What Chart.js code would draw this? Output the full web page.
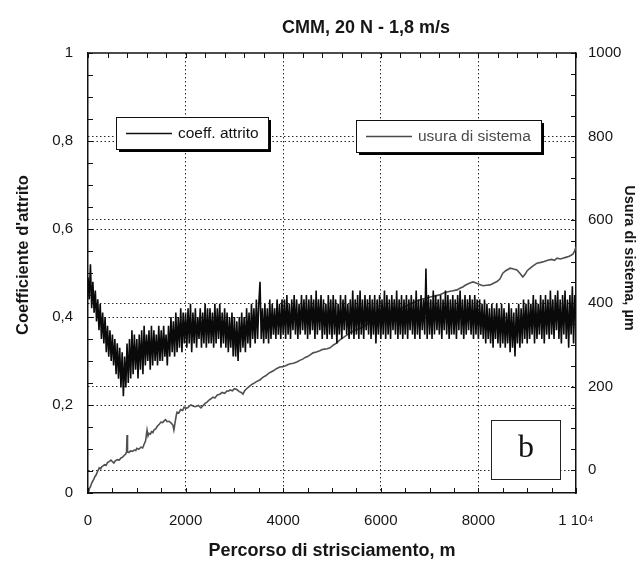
<!DOCTYPE html>
<html><head><meta charset="utf-8">
<script src="https://cdn.jsdelivr.net/npm/chart.js@4.4.1/dist/chart.umd.min.js"></script>
<style>html,body{margin:0;padding:0;background:#fff;} #wrap{width:639px;height:562px;position:relative;}</style>
</head><body><div id="wrap"><canvas id="c" width="639" height="562"></canvas></div>
<script>
const chartTitle = 'CMM, 20 N - 1,8 m/s';
const xAxisTitle = 'Percorso di strisciamento, m';
const leftAxisTitle = "Coefficiente d'attrito";
const rightAxisTitle = 'Usura di sistema, µm';
const seriesNames = ['coeff. attrito', 'usura di sistema'];
const panelLetter = 'b';

const xTickValues = [0, 2000, 4000, 6000, 8000, 10000];
const xTickLabels = ['0', '2000', '4000', '6000', '8000', '1 10⁴'];
const leftTickValues = [0, 0.2, 0.4, 0.6, 0.8, 1];
const leftTickLabels = ['0', '0,2', '0,4', '0,6', '0,8', '1'];
const rightTickValues = [0, 200, 400, 600, 800, 1000];
const rightTickLabels = ['0', '200', '400', '600', '800', '1000'];

// friction coefficient, one reading every 25 m (0 ... 10000 m)
const frictionStep = 25;
const frictionValues = [
  0.49,0.44,0.52,0.42,0.48,0.41,0.46,0.39,0.44,0.37,0.43,0.35,0.41,0.34,0.40,0.32,0.38,0.31,0.37,0.30,
  0.36,0.29,0.35,0.27,0.34,0.26,0.33,0.24,0.32,0.22,0.31,0.24,0.34,0.25,0.35,0.26,0.37,0.27,0.36,0.28,
  0.35,0.26,0.36,0.28,0.37,0.27,0.38,0.29,0.36,0.30,0.37,0.28,0.38,0.29,0.37,0.30,0.36,0.29,0.38,0.30,
  0.37,0.30,0.38,0.31,0.36,0.29,0.38,0.31,0.40,0.32,0.39,0.31,0.41,0.32,0.40,0.33,0.42,0.32,0.41,0.34,
  0.41,0.33,0.42,0.34,0.43,0.32,0.41,0.34,0.42,0.33,0.40,0.35,0.42,0.33,0.41,0.34,0.43,0.33,0.42,0.34,
  0.42,0.34,0.41,0.33,0.43,0.34,0.42,0.35,0.43,0.33,0.41,0.34,0.42,0.33,0.41,0.32,0.40,0.33,0.41,0.31,
  0.40,0.31,0.39,0.30,0.40,0.32,0.41,0.33,0.40,0.32,0.42,0.34,0.41,0.33,0.43,0.35,0.42,0.34,0.44,0.35,
  0.43,0.48,0.35,0.42,0.34,0.43,0.35,0.42,0.34,0.44,0.35,0.43,0.36,0.42,0.35,0.44,0.36,0.43,0.35,0.44,
  0.36,0.44,0.35,0.45,0.36,0.43,0.35,0.44,0.37,0.45,0.36,0.44,0.35,0.43,0.36,0.45,0.37,0.44,0.36,0.45,
  0.35,0.44,0.36,0.45,0.37,0.44,0.35,0.46,0.36,0.44,0.37,0.45,0.35,0.44,0.36,0.43,0.35,0.45,0.36,0.44,
  0.35,0.45,0.36,0.44,0.34,0.43,0.36,0.45,0.35,0.44,0.37,0.45,0.36,0.43,0.35,0.44,0.36,0.46,0.35,0.44,
  0.36,0.45,0.35,0.46,0.36,0.44,0.35,0.45,0.37,0.44,0.36,0.45,0.35,0.44,0.36,0.45,0.34,0.44,0.36,0.45,
  0.35,0.44,0.36,0.46,0.35,0.45,0.36,0.44,0.35,0.45,0.37,0.44,0.36,0.46,0.35,0.44,0.36,0.45,0.35,0.44,
  0.36,0.45,0.35,0.44,0.37,0.45,0.36,0.44,0.35,0.46,0.36,0.44,0.35,0.45,0.37,0.44,0.36,0.51,0.35,0.45,
  0.36,0.44,0.35,0.46,0.36,0.45,0.37,0.44,0.36,0.45,0.35,0.44,0.37,0.46,0.36,0.45,0.35,0.44,0.36,0.45,
  0.36,0.44,0.35,0.45,0.37,0.46,0.36,0.44,0.35,0.45,0.36,0.44,0.37,0.45,0.36,0.44,0.35,0.45,0.36,0.44,
  0.35,0.44,0.36,0.43,0.35,0.44,0.34,0.43,0.35,0.42,0.34,0.43,0.33,0.42,0.35,0.43,0.34,0.42,0.33,0.43,
  0.34,0.42,0.33,0.41,0.34,0.43,0.32,0.42,0.33,0.41,0.31,0.42,0.34,0.43,0.33,0.42,0.34,0.44,0.35,0.43,
  0.34,0.44,0.35,0.43,0.36,0.45,0.34,0.44,0.35,0.43,0.36,0.45,0.35,0.44,0.34,0.45,0.36,0.44,0.35,0.46,
  0.36,0.44,0.35,0.45,0.37,0.46,0.35,0.44,0.34,0.45,0.36,0.46,0.35,0.44,0.33,0.45,0.36,0.47,0.34,0.45,
  0.40
];

// system wear (µm) against sliding distance (m)
const wearDistance = [0,15,30,50,70,90,120,140,165,190,210,230,260,280,310,340,370,400,440,470,500,530,560,600,640,675,710,740,770,790,800,810,840,870,910,945,980,1000,1040,1085,1120,1150,1180,1210,1230,1250,1280,1300,1330,1350,1390,1420,1460,1495,1530,1560,1590,1620,1660,1700,1740,1760,1790,1810,1825,1860,1900,1940,1970,2010,2050,2080,2110,2160,2200,2260,2315,2360,2400,2440,2480,2520,2560,2600,2650,2700,2750,2800,2850,2880,2910,2960,3000,3050,3100,3140,3175,3210,3250,3300,3350,3400,3450,3520,3590,3640,3700,3750,3800,3860,3930,3990,4050,4100,4150,4210,4280,4340,4400,4450,4500,4560,4610,4680,4750,4800,4850,4900,4960,5030,5100,5150,5200,5260,5310,5380,5450,5540,5640,5720,5800,5880,5950,6020,6100,6200,6330,6420,6500,6600,6700,6780,6850,6930,7010,7100,7200,7300,7400,7480,7560,7620,7680,7730,7780,7840,7890,7940,7990,8050,8100,8170,8240,8310,8380,8440,8500,8560,8650,8720,8790,8850,8910,8960,9000,9050,9100,9150,9200,9280,9350,9420,9500,9560,9610,9680,9730,9790,9850,9900,9940,9970,10000];
const wearValues   = [-55,-50,-44,-40,-33,-28,-22,-16,-12,-5,0,5,3,8,10,13,11,18,21,24,20,17,22,25,24,29,31,35,38,43,84,44,42,46,45,48,47,52,50,55,53,62,70,96,82,88,86,92,90,96,99,105,110,115,114,118,121,116,117,113,108,96,118,132,139,137,145,143,151,148,150,154,156,153,152,155,149,155,160,163,168,171,175,173,180,182,186,184,190,189,192,190,195,193,188,186,182,190,195,200,205,208,212,216,223,226,232,235,238,243,247,248,250,253,255,256,259,263,266,270,272,277,281,283,286,289,290,291,293,300,305,311,315,320,324,330,334,338,343,350,355,361,365,368,372,377,384,388,392,398,403,407,410,412,415,417,420,425,428,430,432,436,439,443,446,449,451,449,447,444,442,443,444,448,452,458,472,478,484,482,480,472,463,470,478,483,488,492,496,498,500,503,505,503,508,506,508,510,512,515,518,525,535];

const FONT = "'Liberation Sans', Arial, Helvetica, sans-serif";
const INK = '#161616';

const frictionData = frictionValues.map((v, i) => ({x: i * frictionStep, y: v}));
const wearData = wearDistance.map((d, i) => ({x: d, y: wearValues[i]}));

const setTicks = values => scale => { scale.ticks = values.map(v => ({value: v})); };
const gridColor = (ok) => ctx => ok(ctx.index) ? '#2a2a2a' : 'rgba(0,0,0,0)';

const decorPlugin = {
  id: 'decor',
  afterDraw(chart) {
    const {ctx, chartArea: a, scales} = chart;
    const xs = scales.x, yl = scales.yL, yr = scales.yR;
    ctx.save();
    // top frame line
    ctx.strokeStyle = '#111'; ctx.lineWidth = 1.5;
    ctx.beginPath(); ctx.moveTo(a.left, a.top); ctx.lineTo(a.right, a.top); ctx.stroke();
    // inner tick marks
    ctx.lineWidth = 1; ctx.strokeStyle = '#111';
    const T = 5;
    ctx.beginPath();
    for (let v = 0; v <= 10000; v += 500) { const p = Math.round(xs.getPixelForValue(v)) + 0.5; ctx.moveTo(p, a.bottom); ctx.lineTo(p, a.bottom - T); }
    for (let v = 0; v <= 10000; v += 400) { const p = Math.round(xs.getPixelForValue(v)) + 0.5; ctx.moveTo(p, a.top); ctx.lineTo(p, a.top + T); }
    for (let k = 0; k <= 20; k++) { const p = Math.round(yl.getPixelForValue(k * 0.05)) + 0.5; ctx.moveTo(a.left, p); ctx.lineTo(a.left + T, p); }
    for (let v = 0; v <= 1000; v += 50) { const p = Math.round(yr.getPixelForValue(v)) + 0.5; ctx.moveTo(a.right, p); ctx.lineTo(a.right - T, p); }
    ctx.stroke();

    // chart title
    ctx.fillStyle = INK; ctx.textAlign = 'center'; ctx.textBaseline = 'middle';
    ctx.font = 'bold 18px ' + FONT;
    ctx.fillText(chartTitle, 366, 28);
    // left axis title
    ctx.save(); ctx.translate(23, 255); ctx.rotate(-Math.PI / 2);
    ctx.font = 'bold 16.5px ' + FONT; ctx.fillText(leftAxisTitle, 0, 0); ctx.restore();
    // right axis title
    ctx.save(); ctx.translate(629, 258); ctx.rotate(Math.PI / 2);
    ctx.font = 'bold 14.5px ' + FONT; ctx.fillText(rightAxisTitle, 0, 0); ctx.restore();

    // legend boxes
    const legendBox = (x, y, w, h, label, color, lx1, lx2) => {
      ctx.fillStyle = '#000'; ctx.fillRect(x + 3, y + 3, w, h);
      ctx.fillStyle = '#fff'; ctx.fillRect(x, y, w, h);
      ctx.strokeStyle = '#111'; ctx.lineWidth = 1; ctx.strokeRect(x + 0.5, y + 0.5, w, h);
      ctx.strokeStyle = color; ctx.lineWidth = 1.3;
      ctx.beginPath(); ctx.moveTo(lx1, y + h / 2 + 0.5); ctx.lineTo(lx2, y + h / 2 + 0.5); ctx.stroke();
      ctx.fillStyle = color; ctx.textAlign = 'left'; ctx.textBaseline = 'middle';
      ctx.font = '15.5px ' + FONT; ctx.fillText(label, lx2 + 6, y + h / 2 + 1);
    };
    legendBox(116, 117, 152, 32, seriesNames[0], '#111', 126, 172);
    legendBox(356, 120, 185, 32, seriesNames[1], '#4a4a4a', 366, 412);

    // panel letter box
    ctx.fillStyle = '#fff'; ctx.fillRect(491, 420, 69, 59);
    ctx.strokeStyle = '#222'; ctx.lineWidth = 1; ctx.strokeRect(491.5, 420.5, 69, 59);
    ctx.fillStyle = '#111'; ctx.textAlign = 'center'; ctx.textBaseline = 'middle';
    ctx.font = '32px "Liberation Serif", "Times New Roman", serif';
    ctx.fillText(panelLetter, 526, 449);
    ctx.restore();
  }
};

new Chart(document.getElementById('c'), {
  type: 'line',
  data: {
    datasets: [
      {label: seriesNames[0], data: frictionData, yAxisID: 'yL', borderColor: '#0a0a0a', borderWidth: 1.6, pointRadius: 0, tension: 0, order: 0},
      {label: seriesNames[1], data: wearData, yAxisID: 'yR', borderColor: '#505050', borderWidth: 1.6, pointRadius: 0, tension: 0, order: 1}
    ]
  },
  options: {
    responsive: false, animation: false, devicePixelRatio: 1,
    layout: {padding: {top: 53, left: 0, right: 0, bottom: 0}},
    plugins: {legend: {display: false}, title: {display: false}, tooltip: {enabled: false}},
    scales: {
      x: {
        type: 'linear', position: 'bottom', min: 0, max: 10000,
        afterBuildTicks: setTicks(xTickValues),
        afterFit: s => { s.height = 69; },
        ticks: {callback: (v, i) => xTickLabels[i], font: {family: FONT, size: 15}, color: INK, padding: 19, maxRotation: 0, autoSkip: false},
        grid: {drawTicks: false, lineWidth: 1, color: gridColor(i => i > 0 && i < xTickValues.length - 1)},
        border: {display: true, color: '#111', width: 1.5, dash: [1.5, 2.5]},
        title: {display: true, text: xAxisTitle, font: {family: FONT, size: 18, weight: 'bold'}, color: INK, padding: {top: 0, bottom: 0}}
      },
      yL: {
        type: 'linear', position: 'left', min: 0, max: 1,
        afterBuildTicks: setTicks(leftTickValues),
        afterFit: s => { s.width = 88; },
        ticks: {callback: (v, i) => leftTickLabels[i], font: {family: FONT, size: 15}, color: INK, padding: 15, autoSkip: false},
        grid: {drawTicks: false, lineWidth: 1, color: gridColor(i => i > 0 && i < leftTickValues.length - 1)},
        border: {display: true, color: '#111', width: 1.5, dash: [1.5, 2.5]}
      },
      yR: {
        type: 'linear', position: 'right', min: -55, max: 1000,
        afterBuildTicks: setTicks(rightTickValues),
        afterFit: s => { s.width = 63; },
        ticks: {callback: (v, i) => rightTickLabels[i], font: {family: FONT, size: 15}, color: INK, padding: 12, autoSkip: false},
        grid: {drawTicks: false, lineWidth: 1, color: gridColor(i => i < rightTickValues.length - 1)},
        border: {display: true, color: '#111', width: 1.5, dash: [1.5, 2.5]}
      }
    }
  },
  plugins: [decorPlugin]
});
</script></body></html>
